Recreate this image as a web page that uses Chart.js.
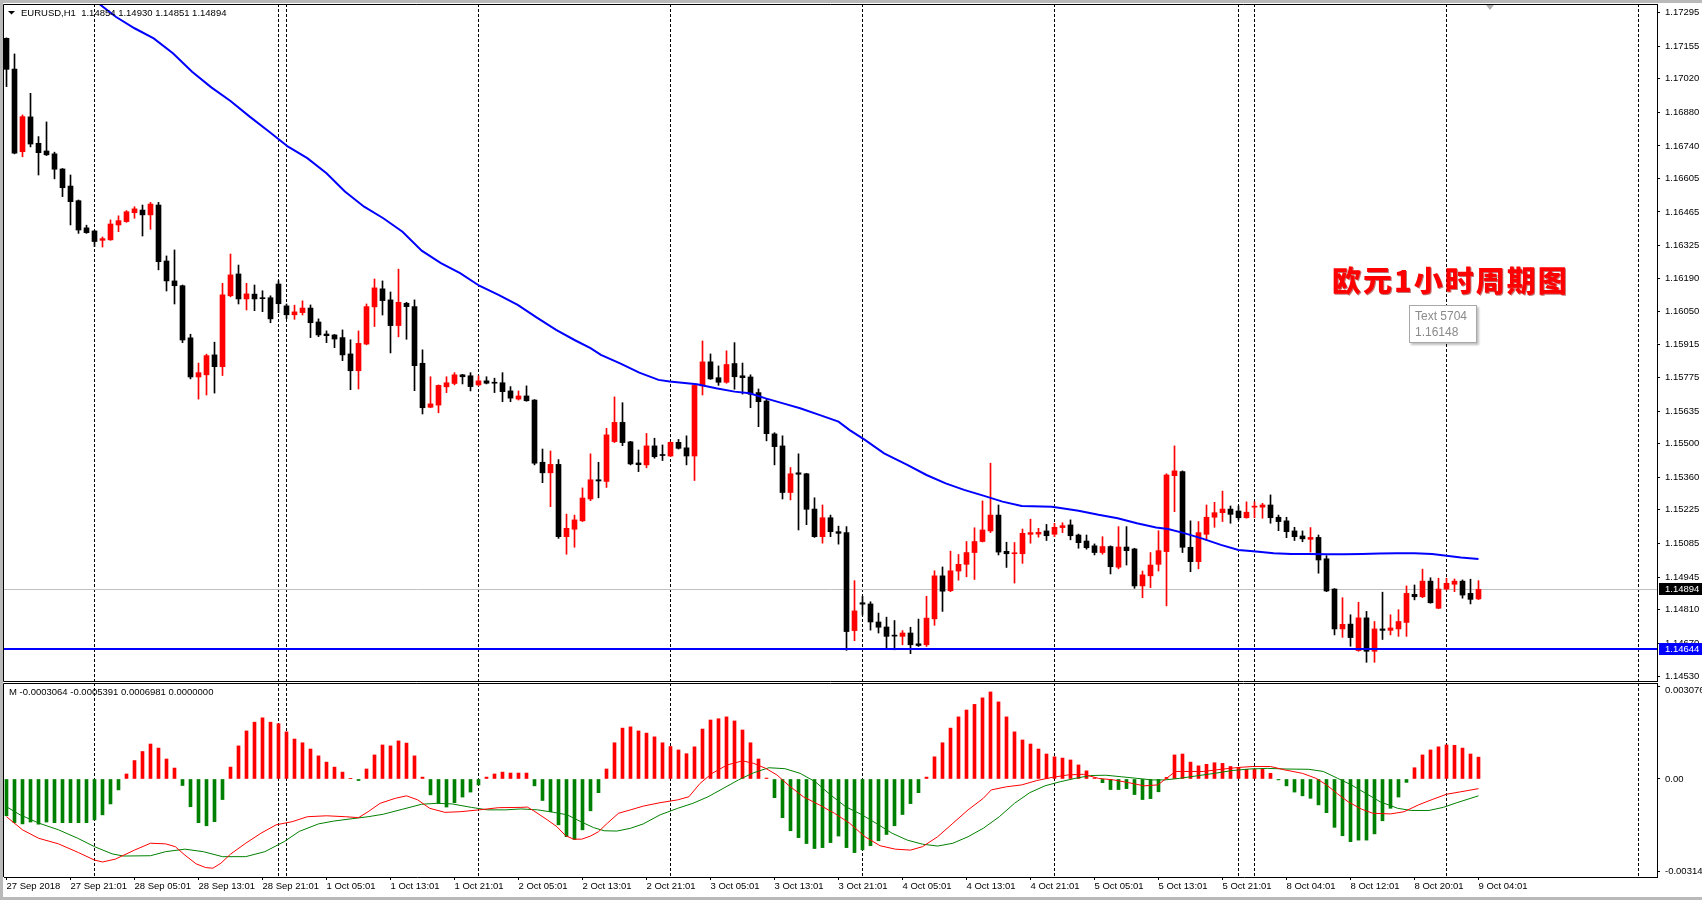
<!DOCTYPE html>
<html><head><meta charset="utf-8">
<script src="https://cdn.jsdelivr.net/npm/chart.js@4.4.1/dist/chart.umd.min.js"></script>
<style>
html,body{margin:0;padding:0;}
body{width:1702px;height:900px;background:#b9b9b9;position:relative;overflow:hidden;font-family:"Liberation Sans",Arial,sans-serif;}
#panel{position:absolute;left:3px;top:3px;width:1699px;height:894px;background:#fff;}
#c1{position:absolute;left:0;top:0;}
#c2{position:absolute;left:0;top:683px;}
#title{position:absolute;left:1332px;top:262px;font-family:"Noto Sans CJK SC";font-weight:900;font-size:29px;line-height:34px;color:#ff0000;letter-spacing:2px;white-space:nowrap;text-shadow:1px 1px 0 rgba(140,0,0,0.55);}
#tip{position:absolute;left:1409px;top:305px;width:56px;padding:2px 5px;border:1px solid #a8a8a8;background:#fff;box-shadow:2px 2px 2px rgba(0,0,0,0.25);font-family:"Liberation Sans",Arial,sans-serif;font-size:12px;line-height:16px;color:#8a8a8a;white-space:nowrap;}
#shift{position:absolute;left:1486px;top:5px;width:0;height:0;border-left:4px solid transparent;border-right:4px solid transparent;border-top:5px solid #b0b0b0;}
</style>
</head>
<body>
<div id="panel"></div>
<canvas id="c1" width="1702" height="682"></canvas>
<canvas id="c2" width="1702" height="214"></canvas>
<div id="title">欧元1小时周期图</div>
<div id="tip">Text 5704<br>1.16148</div>
<div id="shift"></div>
<script>
// ---------- data ----------
const symbol = 'EURUSD,H1';
const opens = [1.17188,1.17060,1.16716,1.16861,1.16751,1.16719,1.16707,1.16644,1.16573,1.16512,
1.16399,1.16386,1.16347,1.16349,1.16411,1.16425,1.16462,1.16473,1.16453,1.16494,
1.16261,1.16178,1.16158,1.15941,1.15778,1.15787,1.15870,1.15821,1.16116,1.16207,
1.16103,1.16123,1.16107,1.16108,1.16165,1.16074,1.16037,1.16046,1.16065,1.16007,
1.15957,1.15953,1.15942,1.15874,1.15804,1.15915,1.16070,1.16145,1.16099,1.15992,
1.16085,1.16071,1.15835,1.15652,1.15661,1.15737,1.15751,1.15787,1.15783,1.15745,
1.15762,1.15754,1.15754,1.15720,1.15686,1.15699,1.15682,1.15423,1.15379,1.15414,
1.15113,1.15144,1.15179,1.15270,1.15350,1.15343,1.15509,1.15589,1.15508,1.15420,
1.15412,1.15491,1.15455,1.15449,1.15506,1.15483,1.15449,1.15741,1.15841,1.15775,
1.15756,1.15834,1.15783,1.15778,1.15713,1.15678,1.15541,1.15491,1.15297,1.15379,
1.15375,1.15228,1.15113,1.15192,1.15134,1.15130,1.14722,1.14838,1.14833,1.14758,
1.14737,1.14701,1.14698,1.14712,1.14667,1.14663,1.14771,1.14950,1.14888,1.14970,
1.14998,1.15047,1.15093,1.15137,1.15203,1.15052,1.15042,1.15042,1.15123,1.15124,
1.15137,1.15123,1.15151,1.15162,1.15120,1.15095,1.15075,1.15047,1.15072,1.14986,
1.15070,1.15062,1.14908,1.14950,1.14998,1.15051,1.15367,1.15384,1.15069,1.15009,
1.15123,1.15194,1.15213,1.15228,1.15220,1.15192,1.15236,1.15236,1.15245,1.15194,
1.15179,1.15137,1.15116,1.15102,1.15110,1.15021,1.14895,1.14729,1.14749,1.14639,
1.14775,1.14636,1.14729,1.14723,1.14729,1.14756,1.14873,1.14863,1.14928,1.14815,
1.14895,1.14915,1.14928,1.14877,1.14854];
const highs = [1.17190,1.17123,1.16869,1.16959,1.16779,1.16840,1.16714,1.16646,1.16619,1.16515,
1.16410,1.16388,1.16361,1.16432,1.16449,1.16471,1.16487,1.16494,1.16505,1.16505,
1.16282,1.16307,1.16161,1.15956,1.15836,1.15873,1.15923,1.16168,1.16290,1.16244,
1.16168,1.16161,1.16137,1.16116,1.16179,1.16082,1.16077,1.16095,1.16078,1.16020,
1.15970,1.15955,1.15974,1.15933,1.15970,1.16082,1.16186,1.16178,1.16132,1.16227,
1.16089,1.16099,1.15891,1.15779,1.15745,1.15779,1.15796,1.15789,1.15796,1.15783,
1.15779,1.15773,1.15796,1.15738,1.15720,1.15741,1.15684,1.15478,1.15470,1.15434,
1.15207,1.15203,1.15316,1.15458,1.15423,1.15564,1.15695,1.15671,1.15510,1.15474,
1.15543,1.15523,1.15495,1.15508,1.15518,1.15533,1.15745,1.15928,1.15874,1.15824,
1.15887,1.15921,1.15836,1.15787,1.15728,1.15686,1.15546,1.15533,1.15401,1.15458,
1.15377,1.15275,1.15245,1.15203,1.15157,1.15155,1.14930,1.14865,1.14842,1.14795,
1.14778,1.14764,1.14722,1.14736,1.14770,1.14865,1.14971,1.14987,1.15053,1.15039,
1.15093,1.15150,1.15262,1.15419,1.15245,1.15090,1.15089,1.15145,1.15186,1.15148,
1.15164,1.15169,1.15171,1.15183,1.15124,1.15120,1.15083,1.15113,1.15075,1.15155,
1.15155,1.15065,1.14970,1.15047,1.15138,1.15375,1.15491,1.15387,1.15179,1.15176,
1.15245,1.15256,1.15303,1.15241,1.15241,1.15258,1.15258,1.15252,1.15287,1.15203,
1.15194,1.15152,1.15137,1.15151,1.15120,1.15034,1.14897,1.14859,1.14788,1.14840,
1.14802,1.14760,1.14882,1.14788,1.14809,1.14908,1.14912,1.14978,1.14942,1.14940,
1.14940,1.14937,1.14933,1.14936,1.14930];
const lows = [1.16987,1.16707,1.16695,1.16736,1.16619,1.16700,1.16603,1.16529,1.16411,1.16376,
1.16376,1.16321,1.16319,1.16347,1.16383,1.16422,1.16439,1.16365,1.16393,1.16224,
1.16136,1.16082,1.15921,1.15770,1.15686,1.15703,1.15711,1.15784,1.16112,1.16082,
1.16057,1.16054,1.16050,1.16004,1.16046,1.16021,1.16018,1.16036,1.15942,1.15946,
1.15921,1.15900,1.15846,1.15725,1.15728,1.15912,1.15988,1.16036,1.15878,1.15945,
1.15935,1.15721,1.15624,1.15650,1.15629,1.15713,1.15745,1.15749,1.15720,1.15741,
1.15749,1.15713,1.15675,1.15675,1.15682,1.15677,1.15412,1.15338,1.15238,1.15106,
1.15040,1.15069,1.15176,1.15263,1.15275,1.15318,1.15505,1.15492,1.15412,1.15384,
1.15400,1.15440,1.15430,1.15447,1.15478,1.15412,1.15347,1.15703,1.15768,1.15743,
1.15752,1.15727,1.15707,1.15650,1.15571,1.15512,1.15412,1.15270,1.15266,1.15141,
1.15163,1.15110,1.15086,1.15113,1.15082,1.14640,1.14680,1.14787,1.14724,1.14712,
1.14645,1.14642,1.14663,1.14626,1.14656,1.14656,1.14744,1.14802,1.14884,1.14932,
1.14946,1.14935,1.15091,1.15130,1.15037,1.14985,1.14920,1.15002,1.15086,1.15111,
1.15097,1.15113,1.15130,1.15100,1.15065,1.15061,1.15037,1.15040,1.14958,1.14979,
1.14995,1.14898,1.14859,1.14901,1.14970,1.14825,1.15217,1.15047,1.14967,1.14979,
1.15097,1.15152,1.15176,1.15169,1.15183,1.15190,1.15192,1.15190,1.15169,1.15138,
1.15109,1.15097,1.15092,1.15049,1.14961,1.14884,1.14704,1.14694,1.14657,1.14636,
1.14590,1.14590,1.14685,1.14704,1.14698,1.14698,1.14850,1.14859,1.14836,1.14813,
1.14891,1.14884,1.14857,1.14833,1.14851];
const closes = [1.17059,1.16710,1.16862,1.16748,1.16712,1.16703,1.16643,1.16566,1.16508,1.16390,
1.16379,1.16342,1.16354,1.16415,1.16429,1.16466,1.16478,1.16453,1.16498,1.16258,
1.16178,1.16158,1.15932,1.15778,1.15796,1.15867,1.15821,1.16120,1.16203,1.16103,
1.16124,1.16103,1.16104,1.16020,1.16083,1.16037,1.16049,1.16065,1.16004,1.15953,
1.15950,1.15936,1.15870,1.15804,1.15918,1.16071,1.16149,1.16096,1.15992,1.16089,
1.16071,1.15825,1.15650,1.15666,1.15743,1.15754,1.15787,1.15779,1.15738,1.15762,
1.15752,1.15752,1.15717,1.15690,1.15699,1.15679,1.15419,1.15379,1.15414,1.15113,
1.15148,1.15183,1.15274,1.15350,1.15345,1.15537,1.15589,1.15505,1.15416,1.15413,
1.15491,1.15446,1.15451,1.15506,1.15481,1.15449,1.15743,1.15841,1.15770,1.15756,
1.15830,1.15779,1.15775,1.15706,1.15675,1.15542,1.15488,1.15297,1.15375,1.15373,
1.15227,1.15113,1.15192,1.15134,1.15127,1.14718,1.14804,1.14832,1.14758,1.14736,
1.14698,1.14699,1.14712,1.14663,1.14660,1.14774,1.14950,1.14886,1.14971,1.14998,
1.15047,1.15093,1.15141,1.15203,1.15049,1.15042,1.15045,1.15127,1.15130,1.15131,
1.15117,1.15152,1.15159,1.15117,1.15088,1.15067,1.15047,1.15072,1.14988,1.15070,
1.15055,1.14908,1.14954,1.14995,1.15055,1.15370,1.15387,1.15069,1.15009,1.15130,
1.15194,1.15213,1.15228,1.15206,1.15192,1.15215,1.15238,1.15245,1.15192,1.15176,
1.15134,1.15113,1.15104,1.15110,1.15016,1.14887,1.14729,1.14748,1.14693,1.14775,
1.14636,1.14729,1.14723,1.14733,1.14760,1.14877,1.14863,1.14928,1.14838,1.14895,
1.14919,1.14928,1.14870,1.14852,1.14894];

const maBars = [11.6,13.66,16,18.4,20.8,23.2,25.6,28,30.4,32.8,35.2,37.6,40,42.3,44.7,47.1,49.5,51.9,54.3,56.7,
59.1,61.5,63.9,66.3,68.7,71,73,74.3,76.7,79.1,81.5,82.9,86.3,88.7,91,92.9,94.9,97.3,99.2,101.6,
104,105.4,107.3,109.7,112.6,115,117.4,119.7,122.1,124.5,126.9,130.7,134,136.5,138.9,141.3,143.7,145.2,147.2,149.5,
151.8,154,156.2,158.4,160.6,162.8,165,167.2,169.4,171.6,173.8,176,178.2,180,181.8,184];
const maValues = [1.17331,1.17278,1.17230,1.17188,1.17126,1.17049,1.16984,1.16927,1.16862,1.16800,1.16737,1.16689,1.16626,1.16550,1.16487,1.16439,1.16383,1.16304,1.16252,1.16210,
1.16158,1.16120,1.16078,1.16025,1.15974,1.15932,1.15898,1.15870,1.15835,1.15796,1.15766,1.15759,1.15748,1.15731,1.15717,1.15710,1.15689,1.15666,1.15648,1.15620,
1.15592,1.15557,1.15516,1.15460,1.15412,1.15370,1.15335,1.15308,1.15284,1.15259,1.15241,1.15238,1.15221,1.15204,1.15190,1.15169,1.15151,1.15145,1.15128,1.15105,
1.15079,1.15058,1.15051,1.15044,1.15041,1.15041,1.15040,1.15040,1.15041,1.15043,1.15044,1.15044,1.15041,1.15034,1.15026,1.15020];

const supportLevels = [1.14644];
const separatorBars = [11,34,35,59,83,107,131,154,156,180,204];
const priceTicks = [1.17295,1.17155,1.17020,1.16880,1.16740,1.16605,1.16465,1.16325,1.16190,1.16050,1.15915,
1.15775,1.15635,1.15500,1.15360,1.15225,1.15085,1.14945,1.14810,1.14670,1.14530];
const timeTickBars = [0,8,16,24,32,40,48,56,64,72,80,88,96,104,112,120,128,136,144,152,160,168,176,184];
const timeTickLabels = ['27 Sep 2018','27 Sep 21:01','28 Sep 05:01','28 Sep 13:01','28 Sep 21:01','1 Oct 05:01',
'1 Oct 13:01','1 Oct 21:01','2 Oct 05:01','2 Oct 13:01','2 Oct 21:01','3 Oct 05:01','3 Oct 13:01','3 Oct 21:01',
'4 Oct 05:01','4 Oct 13:01','4 Oct 21:01','5 Oct 05:01','5 Oct 13:01','5 Oct 21:01','8 Oct 04:01','8 Oct 12:01',
'8 Oct 20:01','9 Oct 04:01'];

const macdHist = [-0.00118,-0.00140,-0.00144,-0.00138,-0.00145,-0.00138,-0.00140,-0.00140,-0.00140,-0.00140,
-0.00140,-0.00131,-0.00115,-0.00080,-0.00035,0.00016,0.00059,0.00088,0.00112,0.00099,
0.00064,0.00035,-0.00021,-0.00089,-0.00140,-0.00150,-0.00137,-0.00066,0.00038,0.00106,
0.00154,0.00182,0.00196,0.00182,0.00177,0.00151,0.00128,0.00116,0.00096,0.00074,
0.00054,0.00038,0.00022,0.00001,-0.00005,0.00032,0.00077,0.00109,0.00106,0.00122,
0.00115,0.00074,0.00006,-0.00051,-0.00078,-0.00090,-0.00076,-0.00058,-0.00042,-0.00019,
0.00006,0.00016,0.00022,0.00019,0.00019,0.00019,-0.00022,-0.00069,-0.00105,-0.00147,
-0.00185,-0.00194,-0.00163,-0.00102,-0.00044,0.00032,0.00116,0.00163,0.00167,0.00154,
0.00147,0.00135,0.00116,0.00104,0.00093,0.00081,0.00103,0.00160,0.00189,0.00193,
0.00199,0.00186,0.00157,0.00116,0.00064,0.00003,-0.00060,-0.00124,-0.00166,-0.00188,
-0.00207,-0.00223,-0.00220,-0.00204,-0.00183,-0.00220,-0.00236,-0.00227,-0.00214,-0.00198,
-0.00178,-0.00150,-0.00114,-0.00079,-0.00044,0.00006,0.00071,0.00116,0.00163,0.00199,
0.00221,0.00239,0.00260,0.00279,0.00247,0.00199,0.00151,0.00125,0.00112,0.00096,
0.00080,0.00071,0.00067,0.00061,0.00045,0.00026,0.00003,-0.00012,-0.00034,-0.00034,
-0.00031,-0.00050,-0.00066,-0.00063,-0.00041,0.00005,0.00077,0.00080,0.00054,0.00042,
0.00047,0.00052,0.00050,0.00040,0.00037,0.00031,0.00031,0.00031,0.00018,-0.00003,
-0.00022,-0.00042,-0.00054,-0.00062,-0.00083,-0.00108,-0.00155,-0.00182,-0.00201,-0.00196,
-0.00196,-0.00176,-0.00134,-0.00094,-0.00058,-0.00011,0.00036,0.00077,0.00093,0.00103,
0.00109,0.00108,0.00099,0.00080,0.00070];

const macdMainBars = [0,2,4,6.5,9,11,12,13.6,16,18,19.9,21.1,22.3,23.7,24.9,25.8,26.8,28,29.9,31.8,33.7,35.7,37.6,40,42.4,44,45.2,46.7,48.6,50,
51.4,52.9,54.8,56.7,59.1,61.5,64.3,65.1,65.9,67.6,68.8,69.9,70.9,71.9,73,74,75.1,76.5,78,79.6,81.7,83.9,85.3,86.7,88.2,90.1,92,93.4,94.9,96.3,
97.7,99.6,101.6,103.5,105.4,107.3,109.2,111.1,113,114.5,116.4,118.3,120.2,122.1,123.1,125,126.9,128.8,130.7,132.7,134.6,136.5,138.4,140.3,142.2,143.9,145,146.1,147.9,149.6,
151.8,154,155.8,158,159.8,162,163.7,165,166.4,167.7,169.4,170.8,173,174.7,176.5,178.3,180,181.8,184];
const macdMainValues = [-0.00121,-0.00163,-0.00190,-0.00208,-0.00236,-0.00260,-0.00266,-0.00257,-0.00228,-0.00206,-0.00208,-0.00217,-0.00244,-0.00272,-0.00284,-0.00286,-0.00270,-0.00241,-0.00206,-0.00174,-0.00147,-0.00137,-0.00121,-0.00118,-0.00121,-0.00124,-0.00105,-0.00078,-0.00062,-0.00054,
-0.00067,-0.00094,-0.00107,-0.00105,-0.00099,-0.00092,-0.00091,-0.00090,-0.00102,-0.00131,-0.00153,-0.00182,-0.00193,-0.00193,-0.00183,-0.00169,-0.00142,-0.00110,-0.00099,-0.00087,-0.00076,-0.00067,-0.00057,-0.00014,0.00018,0.00045,0.00058,0.00050,0.00034,0.00013,
-0.00019,-0.00057,-0.00083,-0.00110,-0.00142,-0.00185,-0.00214,-0.00225,-0.00228,-0.00217,-0.00185,-0.00142,-0.00099,-0.00062,-0.00035,-0.00025,-0.00019,-0.00005,0.00005,0.00013,0.00015,0.00002,-0.00003,-0.00012,-0.00022,-0.00019,0.00002,0.00024,0.00024,0.00024,
0.00031,0.00037,0.00040,0.00040,0.00029,0.00018,0.00002,-0.00019,-0.00048,-0.00073,-0.00097,-0.00110,-0.00112,-0.00105,-0.00083,-0.00065,-0.00049,-0.00041,-0.00031];
const macdSignalBars = [0,1.7,4.1,6.5,8.9,11,13.2,14.6,18,19.9,22.3,24.6,27,29.9,32.3,34.7,36.6,39,40.9,43.3,45.2,47.1,49.5,51.9,53.8,55.7,58.1,60.1,62.4,64.3,
66.4,68.4,70.1,71.8,73.4,74.7,76.3,78,79.6,81.7,83.9,85.8,87.7,89.6,91.5,93.4,95.3,97.3,99.2,101.1,103,104.9,106.8,108.7,110.7,112.6,114.5,116.4,118.3,120.2,
122.1,124.1,126,127.9,129.8,131.7,133.6,135.5,137.4,139.4,141.3,143.2,144.8,146.6,148.8,151,153.2,155.4,157.6,159.8,162.8,164.6,166.4,168.1,169.9,171.7,173.9,175.6,177.8,179.6,
181.3,184];
const macdSignalValues = [-0.00089,-0.00115,-0.00142,-0.00163,-0.00190,-0.00217,-0.00240,-0.00247,-0.00246,-0.00233,-0.00225,-0.00233,-0.00249,-0.00249,-0.00233,-0.00201,-0.00168,-0.00144,-0.00135,-0.00127,-0.00121,-0.00113,-0.00097,-0.00081,-0.00078,-0.00080,-0.00091,-0.00099,-0.00099,-0.00096,
-0.00099,-0.00107,-0.00115,-0.00137,-0.00156,-0.00166,-0.00167,-0.00158,-0.00144,-0.00115,-0.00094,-0.00078,-0.00057,-0.00030,-0.00003,0.00020,0.00036,0.00033,0.00018,-0.00009,-0.00051,-0.00089,-0.00113,-0.00142,-0.00174,-0.00196,-0.00209,-0.00215,-0.00206,-0.00185,
-0.00158,-0.00121,-0.00078,-0.00044,-0.00022,-0.00009,0.00002,0.00011,0.00012,0.00007,0.00002,-0.00003,-0.00003,0.00002,0.00010,0.00018,0.00027,0.00032,0.00034,0.00032,0.00031,0.00024,0.00002,-0.00019,-0.00046,-0.00073,-0.00094,-0.00101,-0.00101,-0.00091,
-0.00076,-0.00054];
const macdHeader = [-0.0003064,-0.0005391,0.0006981,0.0000000];

// ---------- helpers ----------
const FONT = "'Liberation Sans', Arial, sans-serif";
const FS = 9.5;
Chart.defaults.font.family = FONT;
const barIdx = opens.map((_, i) => i);
const candleColors = barIdx.map(i => closes[i] >= opens[i] ? '#ff0000' : '#000000');
const X_MIN = -0.3125, X_MAX = 206.3125;

const separatorPlugin = {
  id: 'separators',
  beforeDatasetsDraw(chart) {
    const {ctx, chartArea: a, scales: {x}} = chart;
    ctx.save();
    ctx.strokeStyle = '#000'; ctx.lineWidth = 1; ctx.setLineDash([3, 2]);
    separatorBars.forEach(b => {
      const px = Math.floor(x.getPixelForValue(b)) + 0.5;
      ctx.beginPath(); ctx.moveTo(px, a.top); ctx.lineTo(px, a.bottom); ctx.stroke();
    });
    ctx.restore();
  }
};

const mainDecor = {
  id: 'mainDecor',
  beforeDatasetsDraw(chart) {
    const {ctx, chartArea: a, scales: {y}} = chart;
    const last = closes[closes.length - 1];
    const py = Math.round(y.getPixelForValue(last)) + 0.5;
    ctx.save(); ctx.strokeStyle = '#c0c0c0'; ctx.lineWidth = 1;
    ctx.beginPath(); ctx.moveTo(a.left, py); ctx.lineTo(a.right, py); ctx.stroke(); ctx.restore();
  },
  afterDatasetsDraw(chart) {
    const {ctx, chartArea: a, scales: {y}} = chart;
    ctx.save(); ctx.strokeStyle = '#0000ff'; ctx.lineWidth = 2;
    supportLevels.forEach(v => {
      const py = Math.round(y.getPixelForValue(v));
      ctx.beginPath(); ctx.moveTo(a.left, py); ctx.lineTo(a.right, py); ctx.stroke();
    });
    ctx.restore();
  },
  afterDraw(chart) {
    const {ctx, chartArea: a, scales: {y}} = chart;
    ctx.save();
    ctx.strokeStyle = '#000'; ctx.lineWidth = 1;
    ctx.beginPath();
    ctx.moveTo(a.right, a.top + 0.5); ctx.lineTo(a.left - 0.5, a.top + 0.5);
    ctx.lineTo(a.left - 0.5, a.bottom - 0.5); ctx.lineTo(a.right, a.bottom - 0.5);
    ctx.stroke();
    // header
    const n = closes.length - 1;
    ctx.fillStyle = '#000';
    ctx.beginPath(); ctx.moveTo(8, 11); ctx.lineTo(15, 11); ctx.lineTo(11.5, 14.5); ctx.closePath(); ctx.fill();
    ctx.font = FS + 'px ' + FONT; ctx.textBaseline = 'middle'; ctx.textAlign = 'left';
    ctx.fillText(symbol + '  ' + [opens[n], highs[n], lows[n], closes[n]].map(v => v.toFixed(5)).join(' '), 21, 13);
    // axis boxes
    const box = (v, bg) => {
      const py = y.getPixelForValue(v);
      ctx.fillStyle = bg; ctx.fillRect(y.left + 2, Math.round(py) - 6, y.right - y.left - 2, 12);
      ctx.fillStyle = '#fff'; ctx.fillText(v.toFixed(5), y.left + 8, py + 0.5);
    };
    box(closes[n], '#000000');
    supportLevels.forEach(v => box(v, '#0000ff'));
    ctx.restore();
  }
};

const macdDecor = {
  id: 'macdDecor',
  afterDraw(chart) {
    const {ctx, chartArea: a, scales: {y}} = chart;
    ctx.save();
    ctx.strokeStyle = '#000'; ctx.lineWidth = 1;
    ctx.beginPath();
    ctx.moveTo(a.right, a.top + 0.5); ctx.lineTo(a.left - 0.5, a.top + 0.5); ctx.lineTo(a.left - 0.5, a.bottom);
    ctx.stroke();
    ctx.fillStyle = '#000'; ctx.font = FS + 'px ' + FONT; ctx.textBaseline = 'middle'; ctx.textAlign = 'left';
    ctx.fillText('M ' + macdHeader.map(v => v.toFixed(7)).join(' '), 9, 9);
    ctx.fillText(y.max.toFixed(6), y.left + 8, a.top + 7);
    ctx.fillText(y.min.toFixed(6), y.left + 8, a.bottom - 6);
    ctx.beginPath();
    ctx.moveTo(y.left, a.top + 3.5); ctx.lineTo(y.left + 3, a.top + 3.5);
    ctx.moveTo(y.left, a.bottom - 5.5); ctx.lineTo(y.left + 3, a.bottom - 5.5);
    ctx.stroke();
    ctx.restore();
  }
};

// ---------- main price chart ----------
new Chart(document.getElementById('c1'), {
  type: 'bar',
  data: {
    datasets: [
      { type: 'line', label: 'MA', data: maBars.map((b, i) => ({x: b, y: maValues[i]})),
        borderColor: '#0000ff', borderWidth: 2, pointRadius: 0, tension: 0, fill: false, order: 0 },
      { type: 'bar', label: 'body', data: barIdx.map(i => ({x: i, y: [opens[i], closes[i]]})),
        backgroundColor: candleColors, borderWidth: 0, barThickness: 5, minBarLength: 1, grouped: false, order: 1 },
      { type: 'bar', label: 'wick', data: barIdx.map(i => ({x: i, y: [lows[i], highs[i]]})),
        backgroundColor: candleColors, borderWidth: 0, barThickness: 1, minBarLength: 1, grouped: false, order: 2 }
    ]
  },
  options: {
    responsive: false, animation: false, devicePixelRatio: 1,
    layout: { padding: { left: 4, top: 4, right: 0, bottom: 0 } },
    plugins: { legend: { display: false }, tooltip: { enabled: false } },
    scales: {
      x: { type: 'linear', display: false, min: X_MIN, max: X_MAX, offset: false, grid: { offset: false } },
      y: { type: 'linear', position: 'right', min: 1.14508, max: 1.17331, beginAtZero: false,
        afterBuildTicks: s => { s.ticks = priceTicks.map(v => ({value: v})); },
        afterFit: s => { s.width = 45; s.paddingTop = 0; s.paddingBottom = 0; },
        ticks: { callback: v => Number(v).toFixed(5), font: { size: FS, family: FONT }, color: '#000', padding: 5, autoSkip: false },
        grid: { drawOnChartArea: false, drawTicks: true, tickLength: 3, tickColor: '#000' },
        border: { display: true, color: '#000', width: 1 } }
    }
  },
  plugins: [separatorPlugin, mainDecor]
});

// ---------- MACD chart ----------
new Chart(document.getElementById('c2'), {
  type: 'bar',
  data: {
    datasets: [
      { type: 'line', label: 'main', data: macdMainBars.map((b, i) => ({x: b, y: macdMainValues[i]})),
        borderColor: '#ff0000', borderWidth: 1, pointRadius: 0, tension: 0, fill: false, order: 0 },
      { type: 'line', label: 'signal', data: macdSignalBars.map((b, i) => ({x: b, y: macdSignalValues[i]})),
        borderColor: '#008000', borderWidth: 1, pointRadius: 0, tension: 0, fill: false, order: 1 },
      { type: 'bar', label: 'hist', data: macdHist.map((v, i) => ({x: i, y: v})),
        backgroundColor: macdHist.map(v => v >= 0 ? '#ff0000' : '#008000'), borderWidth: 0,
        barThickness: 3, grouped: false, order: 2 }
    ]
  },
  options: {
    responsive: false, animation: false, devicePixelRatio: 1,
    layout: { padding: { left: 4, top: 0, right: 0, bottom: 0 } },
    plugins: { legend: { display: false }, tooltip: { enabled: false } },
    scales: {
      x: { type: 'linear', position: 'bottom', min: X_MIN, max: X_MAX, offset: false,
        afterBuildTicks: s => { s.ticks = timeTickBars.map(v => ({value: v})); },
        afterFit: s => { s.height = 20; s.paddingLeft = 0; s.paddingRight = 0; },
        ticks: { callback: (v, i) => timeTickLabels[i], align: 'start', autoSkip: false, maxRotation: 0, minRotation: 0,
          font: { size: FS, family: FONT }, color: '#000', padding: 1 },
        grid: { drawOnChartArea: false, drawTicks: true, tickLength: 3, tickColor: '#000', offset: false },
        border: { display: true, color: '#000', width: 1 } },
      y: { type: 'linear', position: 'right', min: -0.003142, max: 0.003076, beginAtZero: false,
        afterBuildTicks: s => { s.ticks = [{value: 0}]; },
        afterFit: s => { s.width = 45; s.paddingTop = 0; s.paddingBottom = 0; },
        ticks: { callback: v => Number(v).toFixed(2), font: { size: FS, family: FONT }, color: '#000', padding: 5, autoSkip: false },
        grid: { drawOnChartArea: false, drawTicks: true, tickLength: 3, tickColor: '#000' },
        border: { display: true, color: '#000', width: 1 } }
    }
  },
  plugins: [separatorPlugin, macdDecor]
});
</script>
</body></html>
